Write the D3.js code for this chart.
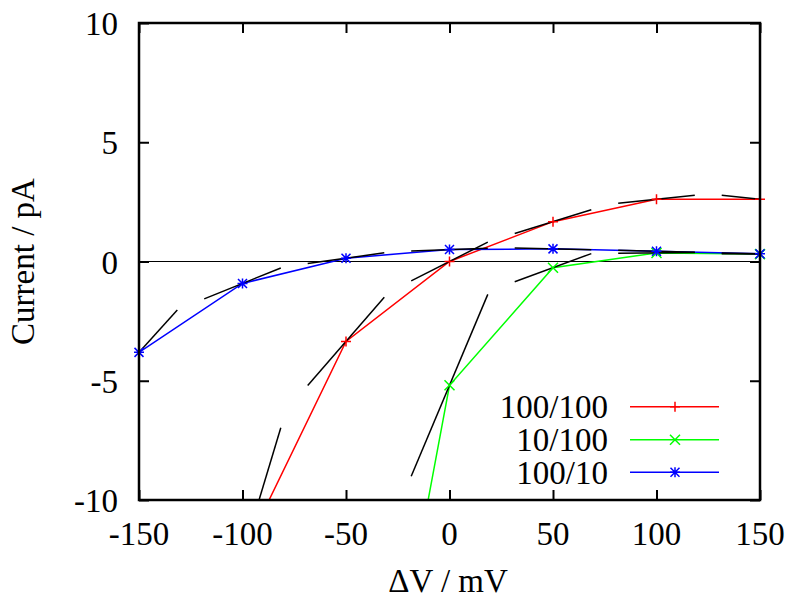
<!DOCTYPE html>
<html>
<head>
<meta charset="utf-8">
<script src="https://cdn.jsdelivr.net/npm/d3@7"></script>
<style>
  body { margin: 0; background: #fff; }
  svg { display: block; }
  text { font-family: "Liberation Serif", "DejaVu Serif", serif; fill: #000; }
</style>
</head>
<body>
<svg id="chart" width="800" height="606"></svg>
<script>
// ---- data ----
const voltages = [-150, -100, -50, 0, 50, 100, 150];          // mV
const seriesNames = ["100/100", "10/100", "100/10"];
const seriesColors = ["#ff0000", "#00ff00", "#0000ff"];
const seriesMarkers = ["plus", "cross", "star"];
// currents in pA (null = not measured / far off chart)
const current_100_100 = [null, -12.3, -3.35, 0.0, 1.67, 2.61, 2.61];
const current_10_100  = [null, null, -28.5, -5.19, -0.26, 0.36, 0.31];
const current_100_10  = [-3.81, -0.92, 0.14, 0.50, 0.53, 0.43, 0.32];
// slopes of the black tangent segments (pA/mV) at each point
const slope_100_100 = [null, 0.288, 0.100, 0.044, 0.027, 0.009, -0.009];
const slope_10_100  = [null, null, null, 0.206, 0.032, 0.001, -0.001];
const slope_100_10  = [0.096, 0.035, 0.012, 0.003, -0.002, -0.002, -0.002];
const tangentHalfWidth = 18.5; // mV
const xTicks = [-150, -100, -50, 0, 50, 100, 150];
const yTicks = [-10, -5, 0, 5, 10];

const currents = [current_100_100, current_10_100, current_100_10];
const slopes = [slope_100_100, slope_10_100, slope_100_10];

// ---- layout ----
const svg = d3.select("#chart");
const L = 139, R = 760, T = 23, B = 500;
const x = d3.scaleLinear().domain([-150, 150]).range([L, R]);
const y = d3.scaleLinear().domain([-10, 10]).range([B, T]);
const fontSize = 33;

svg.append("defs").append("clipPath").attr("id", "plotclip")
  .append("rect").attr("x", L).attr("y", T).attr("width", R - L).attr("height", B - T);

// zero axis
svg.append("line")
  .attr("x1", L).attr("x2", R).attr("y1", y(0)).attr("y2", y(0))
  .attr("stroke", "#000").attr("stroke-width", 1.2);

const plot = svg.append("g").attr("clip-path", "url(#plotclip)");

// series lines
const line = d3.line().defined(d => d[1] !== null).x(d => x(d[0])).y(d => y(d[1]));
currents.forEach((vals, i) => {
  const pts = voltages.map((v, k) => [v, vals[k]]);
  plot.append("path").attr("d", line(pts))
    .attr("fill", "none").attr("stroke", seriesColors[i]).attr("stroke-width", 1.5);
});

// tangents
currents.forEach((vals, i) => {
  voltages.forEach((v, k) => {
    const c = vals[k], s = slopes[i][k];
    if (c === null || s === null) return;
    plot.append("line")
      .attr("x1", x(v - tangentHalfWidth)).attr("y1", y(c - s * tangentHalfWidth))
      .attr("x2", x(v + tangentHalfWidth)).attr("y2", y(c + s * tangentHalfWidth))
      .attr("stroke", "#000").attr("stroke-width", 1.5);
  });
});

// markers
function marker(g, type, cx, cy, color) {
  const r = 5;
  const p = d3.path();
  if (type === "plus" || type === "star") {
    p.moveTo(cx - r, cy); p.lineTo(cx + r, cy);
    p.moveTo(cx, cy - r); p.lineTo(cx, cy + r);
  }
  if (type === "cross" || type === "star") {
    const q = type === "star" ? r * 0.9 : r;
    p.moveTo(cx - q, cy - q); p.lineTo(cx + q, cy + q);
    p.moveTo(cx - q, cy + q); p.lineTo(cx + q, cy - q);
  }
  g.append("path").attr("d", p.toString()).attr("fill", "none")
    .attr("stroke", color).attr("stroke-width", 1.5);
}
const markerLayer = svg.append("g");
currents.forEach((vals, i) => {
  voltages.forEach((v, k) => {
    const c = vals[k];
    if (c === null || c < -10 || c > 10) return;
    marker(markerLayer, seriesMarkers[i], x(v), y(c), seriesColors[i]);
  });
});

// border
svg.append("rect").attr("x", L).attr("y", T).attr("width", R - L).attr("height", B - T)
  .attr("fill", "none").attr("stroke", "#000").attr("stroke-width", 2.5);

// ticks (inward, mirrored)
const tickLen = 10;
const axes = svg.append("g");
axes.append("g").attr("transform", `translate(0,${B})`)
  .call(d3.axisBottom(x).tickValues(xTicks).tickSizeInner(-tickLen).tickSizeOuter(0).tickFormat(""));
axes.append("g").attr("transform", `translate(0,${T})`)
  .call(d3.axisTop(x).tickValues(xTicks).tickSizeInner(-tickLen).tickSizeOuter(0).tickFormat(""));
axes.append("g").attr("transform", `translate(${L},0)`)
  .call(d3.axisLeft(y).tickValues(yTicks).tickSizeInner(-tickLen).tickSizeOuter(0).tickFormat(""));
axes.append("g").attr("transform", `translate(${R},0)`)
  .call(d3.axisRight(y).tickValues(yTicks).tickSizeInner(-tickLen).tickSizeOuter(0).tickFormat(""));
axes.selectAll(".domain").remove();
axes.selectAll(".tick line").attr("stroke", "#000").attr("stroke-width", 2);

// tick labels
svg.append("g").selectAll("text").data(xTicks).join("text")
  .attr("x", d => x(d)).attr("y", 545)
  .attr("text-anchor", "middle").attr("font-size", fontSize)
  .text(d => d);
svg.append("g").selectAll("text").data(yTicks).join("text")
  .attr("x", 118).attr("y", d => y(d) + 12)
  .attr("text-anchor", "end").attr("font-size", fontSize)
  .text(d => d);

// axis titles
svg.append("text").attr("x", 448).attr("y", 592)
  .attr("text-anchor", "middle").attr("font-size", fontSize).text("ΔV / mV");
svg.append("text")
  .attr("transform", `translate(34,${(T + B) / 2}) rotate(-90)`)
  .attr("text-anchor", "middle").attr("font-size", fontSize).text("Current / pA");

// legend
const legendRows = [406.7, 439.7, 472.3];
seriesNames.forEach((name, i) => {
  const ry = legendRows[i];
  svg.append("text").attr("x", 608).attr("y", ry + 11.5)
    .attr("text-anchor", "end").attr("font-size", fontSize).text(name);
  svg.append("line").attr("x1", 630).attr("x2", 719).attr("y1", ry).attr("y2", ry)
    .attr("stroke", seriesColors[i]).attr("stroke-width", 1.5);
  marker(svg, seriesMarkers[i], 675, ry, seriesColors[i]);
});
</script>
</body>
</html>
